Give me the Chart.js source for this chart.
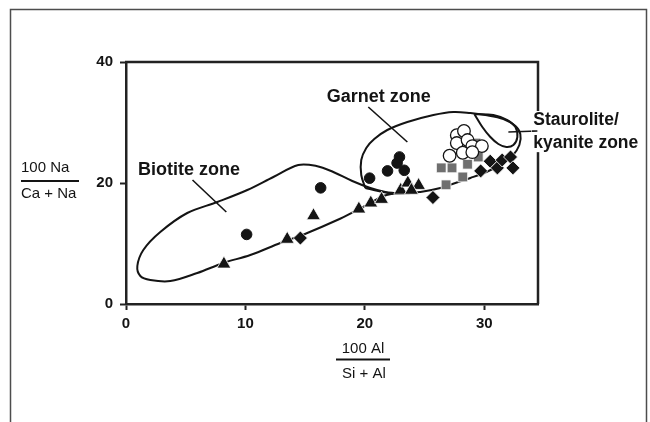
<!DOCTYPE html>
<html>
<head>
<meta charset="utf-8">
<script src="https://cdn.jsdelivr.net/npm/chart.js@4.4.1/dist/chart.umd.min.js"></script>
<style>
  html, body { margin: 0; padding: 0; background: #fff; }
  #wrap { position: relative; width: 650px; height: 422px; }
</style>
</head>
<body>
<div id="wrap"><canvas id="chart" width="650" height="422"></canvas></div>
<script>
// axis ticks
const xTicks = [0, 10, 20, 30];
const yTicks = [0, 20, 40];

// sample points [100Al/(Si+Al), 100Na/(Ca+Na)]
const filledCircles = [[10.1, 11.5], [16.3, 19.2], [20.4, 20.8], [21.9, 22.0], [22.7, 23.3], [22.9, 24.3], [23.3, 22.1]];
const triangles = [[8.2, 6.6], [13.5, 10.7], [15.7, 14.6], [19.5, 15.7], [20.5, 16.7], [21.4, 17.3], [23.0, 18.8], [23.6, 20.0], [24.5, 19.6], [23.9, 18.8]];
const diamonds = [[14.6, 10.9], [25.7, 17.6], [29.7, 22.0], [30.5, 23.6], [31.1, 22.5], [31.5, 23.8], [32.2, 24.3], [32.4, 22.5]];
const graySquares = [[26.4, 22.5], [27.3, 22.5], [28.6, 23.1], [28.2, 21.0], [26.8, 19.7], [29.3, 26.6], [29.5, 24.3]];
const openCircles = [[27.7, 27.9], [28.3, 28.6], [27.7, 26.6], [28.6, 27.1], [29.0, 26.1], [29.8, 26.1], [28.2, 25.0], [27.1, 24.5], [29.0, 25.1]];

// zone outlines
const biotiteZone = [[22.55, 18.35], [21.72, 18.51], [20.46, 19.17], [18.95, 20.33], [17.36, 21.82], [15.94, 22.81], [14.43, 22.98],
  [12.34, 20.99], [10.16, 18.84], [7.65, 16.86], [5.13, 15.04], [2.87, 11.9], [1.45, 8.93], [0.95, 6.28], [1.2, 4.63], [2.04, 3.97],
  [3.71, 3.8], [5.97, 5.12], [8.15, 6.78], [10.41, 8.1], [12.92, 10.08], [15.18, 11.74], [17.69, 13.88], [19.2, 15.37], [20.46, 16.69],
  [21.55, 17.85], [22.55, 18.35]];
const garnetZone = [[20.04, 19.17], [19.7, 21.32], [19.7, 23.8], [20.12, 25.79], [20.79, 27.27], [21.88, 28.76], [23.56, 30.08],
  [25.74, 31.24], [27.41, 31.74], [28.84, 31.57], [30.09, 31.24], [31.6, 30.58], [32.61, 29.42], [33.02, 28.1], [32.94, 26.28],
  [32.35, 24.46], [31.35, 22.98], [30.18, 21.82], [28.84, 20.83], [27.58, 20.0], [26.32, 19.17], [24.65, 18.51], [22.55, 18.18],
  [21.13, 18.68], [20.04, 19.17]];
const stauroliteZone = [[29.17, 31.4], [29.84, 29.26], [30.51, 27.6], [31.18, 26.45], [31.85, 25.95], [32.44, 26.28], [32.77, 27.6],
  [32.61, 29.26], [31.94, 30.41], [30.76, 31.24], [29.17, 31.4]];

const toXY = pairs => pairs.map(([x, y]) => ({ x, y }));
const ink = '#141414';
const fontFamily = "'Liberation Sans', Arial, Helvetica, sans-serif";

const outline = (pts) => ({
  data: toXY(pts), showLine: true, fill: false, tension: 0.35,
  borderColor: ink, borderWidth: 2, pointRadius: 0, order: 10, clip: false
});
const markers = (pts, style, radius, bg, border, bw, order) => ({
  data: toXY(pts), pointStyle: style, pointRadius: radius, pointBackgroundColor: bg,
  pointBorderColor: border, pointBorderWidth: bw, showLine: false, order, clip: false
});

// labels, leader lines, plot box, frame and fraction-style axis titles
const decor = {
  id: 'decor',
  afterDraw(chart) {
    const { ctx, chartArea: a, scales: { x, y } } = chart;
    const px = v => x.getPixelForValue(v);
    const py = v => y.getPixelForValue(v);
    ctx.save();

    // outer frame (open at the bottom)
    ctx.strokeStyle = '#4d4d4d';
    ctx.lineWidth = 1.5;
    ctx.beginPath();
    ctx.moveTo(10.5, 422); ctx.lineTo(10.5, 9.5); ctx.lineTo(646.5, 9.5); ctx.lineTo(646.5, 422);
    ctx.stroke();

    // top and right of plot box
    ctx.strokeStyle = '#222';
    ctx.lineWidth = 2.5;
    ctx.beginPath();
    ctx.moveTo(a.left - 1, a.top); ctx.lineTo(a.right, a.top); ctx.lineTo(a.right, a.bottom);
    ctx.stroke();

    // leader lines
    ctx.strokeStyle = ink;
    ctx.lineWidth = 1.6;
    [[5.57, 20.5, 8.4, 15.21], [20.29, 32.56, 23.56, 26.78], [32.02, 28.43, 34.45, 28.6]].forEach(([x1, y1, x2, y2]) => {
      ctx.beginPath(); ctx.moveTo(px(x1), py(y1)); ctx.lineTo(px(x2), py(y2)); ctx.stroke();
    });

    // zone labels
    ctx.fillStyle = ink;
    ctx.font = 'bold 18px ' + fontFamily;
    ctx.textAlign = 'left';
    ctx.textBaseline = 'middle';
    ctx.fillText('Biotite zone', px(1.0), py(22.15));
    ctx.fillText('Garnet zone', px(16.8), py(34.2));
    // staurolite label breaks the right edge of the box
    ctx.fillStyle = '#fff';
    ctx.fillRect(px(34.45) - 6, py(31.9), 110, py(25.1) - py(31.9));
    ctx.fillStyle = ink;
    ctx.font = 'bold 17.5px ' + fontFamily;
    ctx.fillText('Staurolite/', px(34.1), py(30.41));
    ctx.fillText('kyanite zone', px(34.1), py(26.61));
    // the leader line runs into the label
    ctx.beginPath(); ctx.moveTo(px(34.0), py(28.58)); ctx.lineTo(px(34.45), py(28.6)); ctx.stroke();

    // axis titles as fractions
    ctx.font = '15px ' + fontFamily;
    ctx.textBaseline = 'alphabetic';
    ctx.textAlign = 'center';
    const cx = 363;
    ctx.fillText('100 Al', cx, 353);
    ctx.fillText('Si + Al', cx + 1, 378);
    ctx.fillRect(336, 358.5, 54, 2);
    ctx.textAlign = 'left';
    ctx.fillText('100 Na', 21, 172);
    ctx.fillText('Ca + Na', 21, 198);
    ctx.fillRect(21, 180, 58, 2);

    ctx.restore();
  }
};

const fixTicks = values => scale => { scale.ticks = values.map(v => ({ value: v })); };

new Chart(document.getElementById('chart'), {
  type: 'scatter',
  data: {
    datasets: [
      outline(biotiteZone),
      outline(garnetZone),
      outline(stauroliteZone),
      markers(graySquares, 'rect', 6.9, '#6f6f6f', '#ffffff', 0.8, 5),
      markers(openCircles, 'circle', 6.3, '#ffffff', ink, 1.3, 4),
      markers(diamonds, 'rectRot', 7, ink, '#ffffff', 0.8, 3),
      markers(triangles, 'triangle', 8, ink, '#ffffff', 0.8, 2),
      markers(filledCircles, 'circle', 5.3, ink, ink, 1, 1)
    ]
  },
  options: {
    responsive: false,
    animation: false,
    events: [],
    layout: { padding: { left: 0, top: 62, right: 112, bottom: 0 } },
    plugins: { legend: { display: false }, tooltip: { enabled: false } },
    scales: {
      x: {
        type: 'linear', min: 0, max: 34.5,
        afterBuildTicks: fixTicks(xTicks),
        afterFit: s => { s.height = 118; },
        border: { display: true, color: '#222', width: 2.5 },
        grid: { display: true, drawOnChartArea: false, drawTicks: true, tickLength: 6, tickWidth: 2, tickColor: '#222' },
        ticks: { color: ink, padding: 5, font: { family: fontFamily, size: 15, weight: 'bold' } }
      },
      y: {
        type: 'linear', min: 0, max: 40,
        afterBuildTicks: fixTicks(yTicks),
        afterFit: s => { s.width = 126; },
        border: { display: true, color: '#222', width: 2.5 },
        grid: { display: true, drawOnChartArea: false, drawTicks: true, tickLength: 6, tickWidth: 2, tickColor: '#222' },
        ticks: { color: ink, padding: 7, font: { family: fontFamily, size: 15, weight: 'bold' } }
      }
    }
  },
  plugins: [decor]
});
</script>
</body>
</html>
